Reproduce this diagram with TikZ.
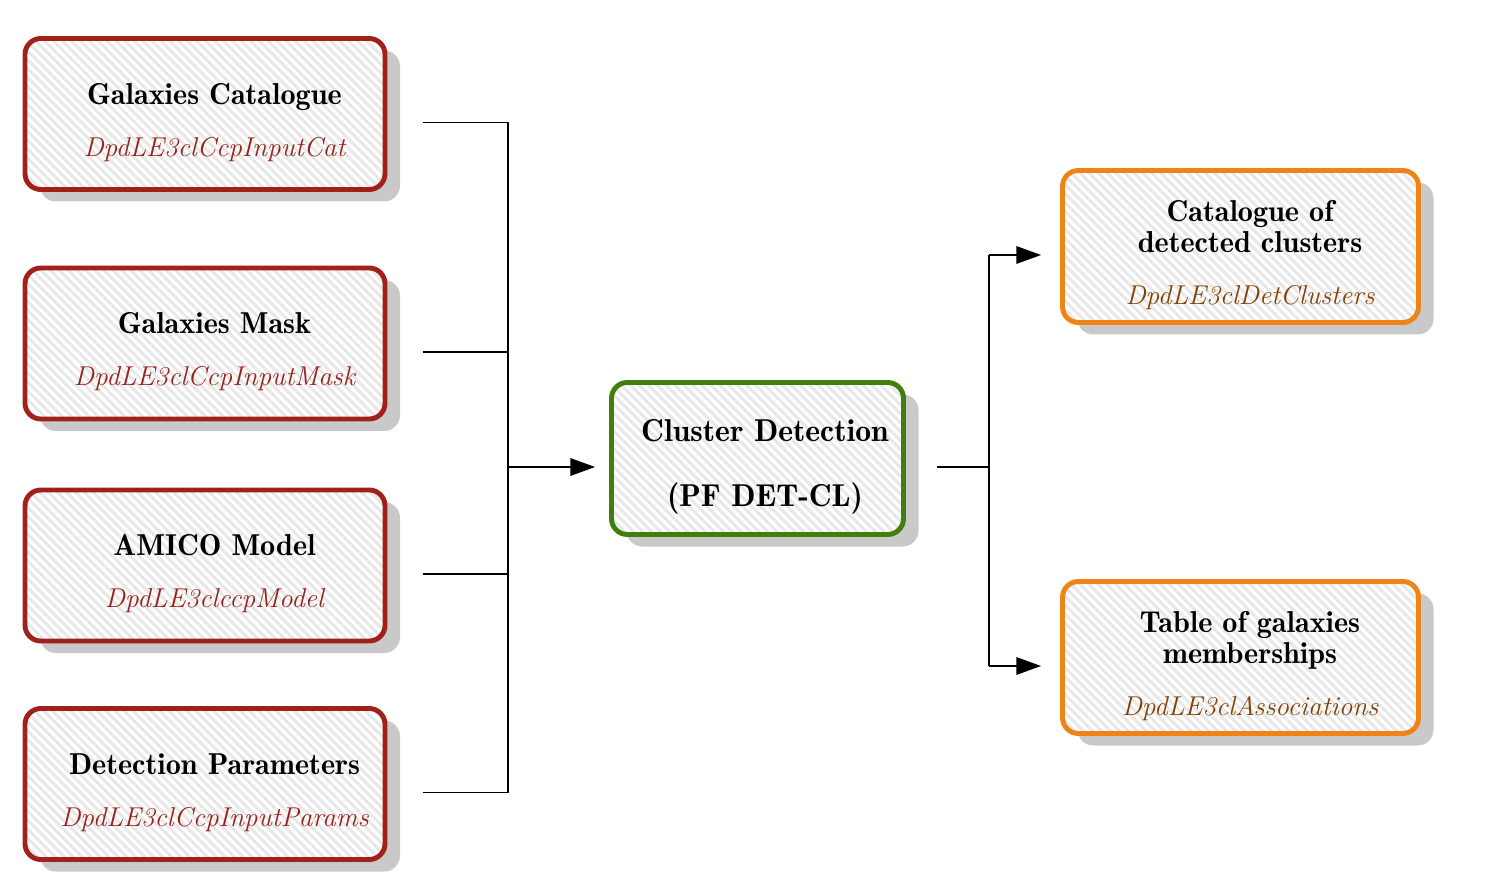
\documentclass[tikz,border=0pt]{standalone}
\usetikzlibrary{arrows.meta,shadows,patterns.meta}
\definecolor{inred}{RGB}{162,32,26}
\definecolor{inlab}{RGB}{150,36,28}
\definecolor{pfgreen}{RGB}{66,126,14}
\definecolor{outorange}{RGB}{238,132,22}
\definecolor{outlab}{RGB}{128,64,6}
\tikzset{
  stage/.style={draw=#1, rounded corners=9pt, line width=2.8pt,
    drop shadow={shadow xshift=0.3cm, shadow yshift=-0.24cm, fill=black!21, opacity=1},
    preaction={fill=white},
    pattern={Lines[angle=-45,distance=3.6pt,line width=1.7pt]}, pattern color=black!9},
  inbox/.style={stage=inred, minimum width=7.2cm, minimum height=3.02cm},
  pfbox/.style={stage=pfgreen, minimum width=5.84cm, minimum height=3.04cm},
  outbox/.style={stage=outorange, minimum width=7.12cm, minimum height=3.04cm},
  boxtext/.style={align=center, inner sep=0pt, xshift=0.19cm, yshift=-0.17cm},
}
\newcommand\prodname[2]{\textcolor{#1}{\fontsize{15.5}{17.5}\selectfont\mdseries\itshape #2}}
\begin{document}
\begin{tikzpicture}[line join=round, >={Triangle[length=14pt,width=10pt]},
    font=\fontsize{17.2}{17.5}\selectfont\fontseries{b}\selectfont]
  \useasboundingbox (0,0) rectangle (29.94,-17.82);
  % input products
  \node[inbox] (cat) at (4.1,-2.28) {};
  \node[inbox] (mask) at (4.1,-6.87) {};
  \node[inbox] (model) at (4.1,-11.31) {};
  \node[inbox] (par) at (4.1,-15.68) {};
  \node[boxtext] (cat-t) at (cat) {Galaxies Catalogue\\[12pt]\prodname{inlab}{DpdLE3clCcpInputCat}};
  \node[boxtext] (mask-t) at (mask) {Galaxies Mask\\[12pt]\prodname{inlab}{DpdLE3clCcpInputMask}};
  \node[boxtext] (model-t) at (model) {AMICO Model\\[12pt]\prodname{inlab}{DpdLE3clccpModel}};
  \node[boxtext] (par-t) at (par) {Detection Parameters\\[12pt]\prodname{inlab}{DpdLE3clCcpInputParams}};
  % processing function
  \node[pfbox] (det) at (15.15,-9.17) {};
  \node[boxtext, xshift=-0.04cm, font=\fontsize{18}{17.5}\selectfont\fontseries{b}\selectfont] (det-t) at (det) {Cluster Detection\\[19.8pt](PF DET-CL)};
  % output products
  \node[outbox] (clus) at (24.81,-4.93) {};
  \node[outbox] (memb) at (24.81,-13.15) {};
  \node[boxtext] (clus-t) at (clus) {Catalogue of\\detected clusters\\[12pt]\prodname{outlab}{DpdLE3clDetClusters}};
  \node[boxtext] (memb-t) at (memb) {Table of galaxies\\memberships\\[12pt]\prodname{outlab}{DpdLE3clAssociations}};
  % connectors
  \coordinate (busL) at (10.16,-9.3);
  \coordinate (busR) at (19.78,-9.3);
  \path (cat.east) ++(0.72,0) coordinate (stubL);
  \path (det.west) ++(-0.28,0) coordinate (detin);
  \path (det.east) ++(0.62,0) coordinate (detout);
  \path (clus.west) ++(-0.38,0) coordinate (outin);
  \foreach \n in {cat,mask,model,par}
    \draw[line width=0.7pt] (stubL |- \n-t) -- (busL |- \n-t);
  \draw[line width=0.7pt] (busL |- cat-t) -- (busL |- par-t);
  \draw[line width=0.7pt,->] (busL |- det-t) -- (detin |- det-t);
  \draw[line width=0.7pt] (detout |- det-t) -- (busR |- det-t);
  \draw[line width=0.7pt] (busR |- clus-t) -- (busR |- memb-t);
  \foreach \n in {clus,memb}
    \draw[line width=0.7pt,->] (busR |- \n-t) -- (outin |- \n-t);
\end{tikzpicture}
\end{document}
